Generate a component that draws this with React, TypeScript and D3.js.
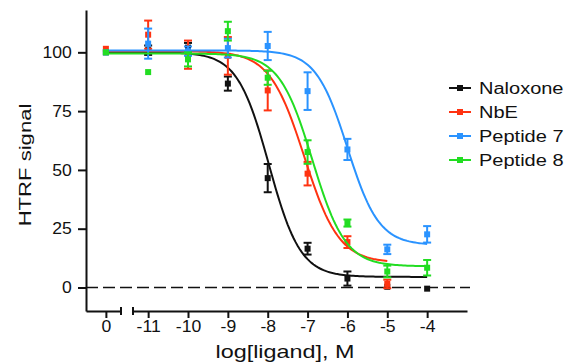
import { useEffect, useRef } from "react";
import * as d3 from "d3";

// doses in log M; 0 stands for the no-ligand control on its own axis segment
const doses = [0, -11, -10, -9, -8, -7, -6, -5, -4];

const naloxoneMean = [100, 100.9, 102, 86.7, 46.5, 16.5, 3.8, 0.3, -0.5];
const naloxoneSem = [0, 2, 2, 3, 6, 2.5, 3, 0, 0];
const nbeMean = [101.5, 107.5, 99, 98.5, 83.8, 48.4, 19.3, 1.5, null];
const nbeSem = [0, 6, 6, 8, 8.5, 5, 2.5, 1.8, null];
const pep7Mean = [100, 103.7, 100.5, 101.8, 102.7, 83.5, 58.7, 16.2, 22.6];
const pep7Sem = [0, 6.4, 2, 4, 6, 8, 4.5, 2, 3.5];
const pep8Mean = [100, 91.6, 97, 109, 89.2, 57.6, 27.4, 6.8, 8.4];
const pep8Sem = [0, 0, 3, 4, 3, 5, 1.5, 2.5, 3.3];

const seriesNames = ["Naloxone", "NbE", "Peptide 7", "Peptide 8"];
const seriesColors = ["#111111", "#ff3311", "#2a93ff", "#22dd22"];

// 4-parameter logistic fit per series
const fitTop = [100, 100.5, 100.8, 99.5];
const fitBottom = [4.5, 10.5, 18, 9];
const fitLogIC50 = [-7.97, -7.08, -6.0, -6.88];
const fitHill = [1.1, 1.0, 1.1, 1.05];

const yTicks = [0, 25, 50, 75, 100];
const xTicksZero = [0];
const xTicksLog = [-11, -10, -9, -8, -7, -6, -5, -4];

const FONT = "'Liberation Sans', Arial, sans-serif";

export default function App ()
{
    const svgRef = useRef<SVGSVGElement>( null );

    useEffect( () =>
    {
        if ( !svgRef.current ) return;
        const svg = d3.select( svgRef.current );
        svg.selectAll( "*" ).remove();

        const y = d3.scaleLinear().domain( [ -10, 118 ] ).range( [ 311, 10 ] );
        const xZero = d3.scaleLinear().domain( [ -0.5, 0.38 ] ).range( [ 86, 121 ] );
        const xLog = d3.scaleLinear().domain( [ -11.38, -3 ] ).range( [ 133, 467 ] );
        const xPos = ( d: number ) => ( d === 0 ? xZero( 0 ) : xLog( d ) );
        const fmt = ( d: any ) => String( d );

        const means = [ naloxoneMean, nbeMean, pep7Mean, pep8Mean ];
        const sems = [ naloxoneSem, nbeSem, pep7Sem, pep8Sem ];

        const styleTicks = ( sel: any, sx: number ) =>
        {
            sel.selectAll( "text" ).attr( "fill", "#111" ).style( "font-size", "16px" ).style( "font-family", FONT )
                .attr( "transform", `scale(${ sx },1)` );
            sel.selectAll( "line" ).attr( "stroke", "#111" ).attr( "stroke-width", 2 );
            sel.select( ".domain" ).attr( "stroke", "#111" ).attr( "stroke-width", 2 );
        };

        // zero line
        svg.append( "line" ).attr( "x1", 86 ).attr( "x2", 470 ).attr( "y1", y( 0 ) ).attr( "y2", y( 0 ) )
            .attr( "stroke", "#111" ).attr( "stroke-width", 1.6 ).attr( "stroke-dasharray", "12,5" );

        // Axes
        svg.append( "g" ).attr( "transform", "translate(86,0)" )
            .call( d3.axisLeft( y ).tickValues( yTicks ).tickSize( 8 ).tickSizeOuter( 0 ).tickPadding( 5 ).tickFormat( fmt ) )
            .call( ( g ) => styleTicks( g, 1.1 ) );

        svg.append( "g" ).attr( "transform", "translate(0,311)" )
            .call( d3.axisBottom( xZero ).tickValues( xTicksZero ).tickSize( 7 ).tickSizeOuter( 0 ).tickPadding( 3 ).tickFormat( fmt ) )
            .call( ( g ) => styleTicks( g, 1.1 ) );

        svg.append( "g" ).attr( "transform", "translate(0,311)" )
            .call( d3.axisBottom( xLog ).tickValues( xTicksLog ).tickSize( 7 ).tickSizeOuter( 0 ).tickPadding( 3 ).tickFormat( fmt ) )
            .call( ( g ) => styleTicks( g, 1.1 ) );

        // break marks
        [ xZero.range()[ 1 ], xLog.range()[ 0 ] ].forEach( ( bx ) =>
        {
            svg.append( "line" ).attr( "x1", bx ).attr( "x2", bx ).attr( "y1", 307 ).attr( "y2", 315 )
                .attr( "stroke", "#111" ).attr( "stroke-width", 2 );
        } );

        // Series
        seriesNames.forEach( ( name, i ) =>
        {
            const color = seriesColors[ i ];
            const g = svg.append( "g" );
            const pts = doses
                .map( ( d, j ) => ( { d, m: means[ i ][ j ] as number | null, s: sems[ i ][ j ] as number | null } ) )
                .filter( ( p ) => p.m !== null );

            const fit = ( lx: number ) => fitBottom[ i ] + ( fitTop[ i ] - fitBottom[ i ] ) / ( 1 + Math.pow( 10, ( lx - fitLogIC50[ i ] ) * fitHill[ i ] ) );
            const lastDose = d3.max( pts.filter( ( p ) => p.d !== 0 ), ( p ) => p.d ) as number;
            const curve: [ number, number ][] = [ [ xZero( 0 ), y( fitTop[ i ] ) ] ];
            d3.range( -11, lastDose + 0.001, 0.05 ).forEach( ( lx ) => curve.push( [ xLog( lx ), y( fit( lx ) ) ] ) );

            g.append( "path" ).attr( "d", d3.line()( curve ) ).attr( "fill", "none" )
                .attr( "stroke", color ).attr( "stroke-width", 2 );

            // error bars
            pts.filter( ( p ) => ( p.s || 0 ) > 0 ).forEach( ( p ) =>
            {
                const cx = xPos( p.d );
                const lo = y( ( p.m as number ) - ( p.s as number ) ), hi = y( ( p.m as number ) + ( p.s as number ) );
                g.append( "line" ).attr( "x1", cx ).attr( "x2", cx ).attr( "y1", lo ).attr( "y2", hi )
                    .attr( "stroke", color ).attr( "stroke-width", 2 );
                [ lo, hi ].forEach( ( yy ) =>
                    g.append( "line" ).attr( "x1", cx - 4 ).attr( "x2", cx + 4 ).attr( "y1", yy ).attr( "y2", yy )
                        .attr( "stroke", color ).attr( "stroke-width", 2 ) );
            } );

            g.selectAll( "rect" ).data( pts ).join( "rect" )
                .attr( "x", ( p ) => xPos( p.d ) - 3 ).attr( "y", ( p ) => y( p.m as number ) - 3 )
                .attr( "width", 6 ).attr( "height", 6 ).attr( "fill", color );

            // legend
            const ly = 88 + 24 * i;
            svg.append( "line" ).attr( "x1", 449 ).attr( "x2", 471 ).attr( "y1", ly ).attr( "y2", ly )
                .attr( "stroke", color ).attr( "stroke-width", 2 );
            svg.append( "rect" ).attr( "x", 457 ).attr( "y", ly - 3 ).attr( "width", 6 ).attr( "height", 6 ).attr( "fill", color );
            svg.append( "text" ).attr( "transform", `translate(479,${ ly + 6 }) scale(1.25,1)` )
                .attr( "fill", "#111" ).style( "font-size", "16px" ).style( "font-family", FONT ).text( name );
        } );

        // axis titles
        svg.append( "text" ).attr( "transform", "translate(31,165) rotate(-90) scale(1.3,1)" ).attr( "text-anchor", "middle" )
            .attr( "fill", "#111" ).style( "font-size", "17px" ).style( "font-family", FONT ).text( "HTRF signal" );
        svg.append( "text" ).attr( "transform", "translate(285,358) scale(1.3,1)" ).attr( "text-anchor", "middle" )
            .attr( "fill", "#111" ).style( "font-size", "18px" ).style( "font-family", FONT ).text( "log[ligand], M" );
    }, [] );

    return (
        <svg ref={ svgRef } width={ 577 } height={ 363 }
            style={ { position: "fixed", left: 0, top: 0, background: "#fff" } } />
    );
}
